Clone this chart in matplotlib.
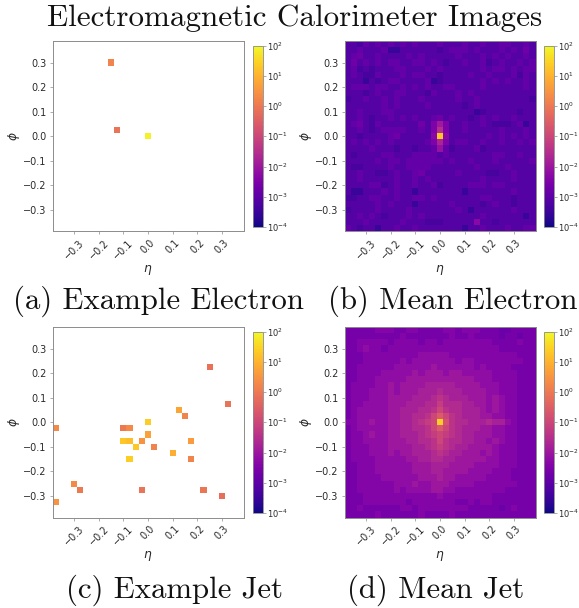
import numpy as np
import matplotlib
matplotlib.use("Agg")
import matplotlib.pyplot as plt
from matplotlib.colors import LogNorm
from matplotlib.ticker import FixedLocator

W, H = 579, 608
plt.rcParams['mathtext.fontset'] = 'dejavusans'

# Example electron: non-empty cells
electron_eta = [-0.15, -0.125, 0.0]
electron_phi = [0.3, 0.025, 0.0]
electron_val = [1.5, 0.8, 80.0]

# Example jet: non-empty cells
jet_eta = [-0.375, -0.1, -0.075, 0.0, 0.125, 0.15, 0.25, 0.325, -0.1, -0.075, 0.0, -0.025,
           -0.05, 0.025, 0.175, 0.1, 0.175, -0.075, -0.3, -0.275, -0.375, -0.025, 0.225, 0.3]
jet_phi = [-0.025, -0.025, -0.025, 0.0, 0.05, 0.025, 0.225, 0.075, -0.075, -0.075, -0.05, -0.075,
           -0.1, -0.1, -0.075, -0.125, -0.15, -0.15, -0.25, -0.275, -0.325, -0.275, -0.275, -0.3]
jet_val = [2.0, 1.0, 2.0, 25.0, 6.0, 1.5, 0.7, 0.8, 20.0, 15.0, 5.0, 3.0,
           20.0, 1.5, 4.0, 8.0, 1.5, 25.0, 2.0, 1.0, 3.0, 0.8, 0.9, 0.6]

# Mean images read cell by cell, top row first; each base-36 digit is a level,
# log10(value) = base + 0.2 * level
electron_log_base = -4.12
jet_log_base = -4.0
mean_electron_levels = [
    "5546565656 5655565556 5565566556 5",
    "5565556335 5555545666 5655565657 5",
    "5675565555 6565555565 5565656556 5",
    "5756565665 5665654556 5564565565 6",
    "5645455566 5556565555 5565665656 6",
    "5654465556 5665545555 6556555646 5",
    "5553545665 5556345555 5565656556 5",
    "5666566556 5656556655 5565555556 5",
    "5554565566 5554655565 6555555555 5",
    "4556556565 5565555565 5655555555 4",
    "5555556565 5556555554 5655555555 5",
    "5565556655 5555555555 5345555545 5",
    "5565455656 5655675655 4565655655 5",
    "5675465555 55758b8556 5565444563 5",
    "5565456666 55658d8556 5555565556 5",
    "5545555675 55559r9555 5556565656 5",
    "5656565655 55568c8566 5565565565 6",
    "5555655545 54556a6455 5645555555 5",
    "5455556655 5666656555 5555665565 5",
    "5555565665 6666665655 6555655555 6",
    "5445555655 6666555555 5655556555 5",
    "5565544565 5675555565 5554455655 5",
    "5565555565 5656555555 5565555655 5",
    "5555664565 5655645555 6665665555 5",
    "5335556565 5355555553 5555555655 5",
    "4455665565 5665655555 5566555455 5",
    "5555565655 5355555655 5545655455 5",
    "4555565555 6555555565 3555555655 5",
    "5565654555 6565555555 5565555553 5",
    "5556555556 5554445555 5955455555 5",
    "6545535565 5655555553 5565556556 6",
]

mean_jet_levels = [
    "7777788877 8877778878 8877766777 7",
    "7777777778 7777777877 8777767767 7",
    "7788888788 8878878888 8888777787 7",
    "7789887888 8888888888 8888877777 7",
    "7778888888 8899999888 8888888877 7",
    "7778888889 8999999989 9888888887 7",
    "7788888899 9999a99999 9898888777 7",
    "7788889999 9a9aaa9aa9 9999888877 7",
    "7788899999 aaaaaaaaaa a999888877 7",
    "7888899a9a aaabbbbbaa aa99988877 7",
    "7888999a9a aabbbcbbba aaa9988877 7",
    "7888999aaa abbbcdcbbb aaa9a98877 7",
    "7889999aaa bbbccecccb baa9a98877 7",
    "7899999aab bbccdfdccb bba9a98877 7",
    "7899999aab bccdfhfdcb bbaa998877 7",
    "8899a99aab bcdefrgdcc bbbcbb9877 7",
    "7899999aab bccdfhfdcb bbaa998877 7",
    "7889a99aab bbcdefedcb baaa998877 7",
    "7889999aaa bbccdfdccb baa9a98877 7",
    "7888999aaa abbcdedcbb aaaa988877 7",
    "7888999a9a abbbcdcbba aa9a988877 7",
    "7888899999 aabbccbbaa aaa9988877 7",
    "7788899999 9aaabbbaaa a999988877 7",
    "7788899999 9aaabbaaaa 9999888777 7",
    "7788889999 99aaabaa99 9998888777 7",
    "7788888899 9a99aaa999 9888888877 7",
    "7788888898 9999aa9988 8888887777 7",
    "7778888888 8888898888 8888777777 7",
    "7778888888 7888888877 8788777777 7",
    "7787777778 8788888888 7777767877 7",
    "7777787777 7787777877 7777777777 7",
]

tick_values = [-0.3, -0.2, -0.1, 0.0, 0.1, 0.2, 0.3]
cbar_exponents = [-4, -3, -2, -1, 0, 1, 2]
title_text = "Electromagnetic Calorimeter Images"
captions = ["(a) Example Electron", "(b) Mean Electron", "(c) Example Jet", "(d) Mean Jet"]

NPIX = 31
CELL = 0.025
edges = (np.arange(NPIX + 1) - NPIX / 2) * CELL
norm = LogNorm(vmin=1e-4, vmax=1e2)
GREY = "#8c8c8c"
TXT = "#2a2a2a"


def from_cells(eta, phi, val):
    g = np.full((NPIX, NPIX), np.nan)
    for e, p, v in zip(eta, phi, val):
        g[int(round(p / CELL)) + NPIX // 2, int(round(e / CELL)) + NPIX // 2] = v
    return g


def from_levels(rows, base):
    g = [[10 ** (base + 0.2 * int(c, 36)) for c in r.replace(" ", "")] for r in rows]
    return np.array(g)[::-1]


def px_axes(fig, x0, y0, x1, y1):
    return fig.add_axes([x0 / W, 1 - y1 / H, (x1 - x0) / W, (y1 - y0) / H])


fig = plt.figure(figsize=(W / 100, H / 100), dpi=100)

panels = [
    (from_cells(electron_eta, electron_phi, electron_val), 52.5, 41, 253),
    (from_levels(mean_electron_levels, electron_log_base), 344.5, 41, 544),
    (from_cells(jet_eta, jet_phi, jet_val), 52.5, 327, 253),
    (from_levels(mean_jet_levels, jet_log_base), 344.5, 327, 544),
]

for grid, x0, y0, cx in panels:
    ax = px_axes(fig, x0, y0, x0 + 191, y0 + 190.5)
    mesh = ax.pcolormesh(edges, edges, grid, cmap="plasma", norm=norm, linewidth=0)
    ax.set_xlim(edges[0], edges[-1])
    ax.set_ylim(edges[0], edges[-1])
    ax.set_xticks(tick_values)
    ax.set_yticks(tick_values)
    ax.set_xticklabels([f"{t:.1f}".replace("-", "\u2212") for t in tick_values],
                       rotation=45, ha="center", fontsize=7.0, color=TXT)
    ax.set_yticklabels([f"{t:.1f}".replace("-", "\u2212") for t in tick_values],
                       fontsize=7.0, color=TXT)
    ax.tick_params(length=2, width=0.5, color=GREY, pad=2.5)
    for s in ax.spines.values():
        s.set_color(GREY)
        s.set_linewidth(0.7)
    ax.set_xlabel(r"$\eta$", fontsize=8.8, color=TXT, labelpad=1.0)
    ax.set_ylabel(r"$\phi$", fontsize=8.8, color=TXT, labelpad=0.5)

    cax = px_axes(fig, cx, y0 + 4.5, cx + 9.5, y0 + 186)
    cb = fig.colorbar(mesh, cax=cax)
    cb.ax.yaxis.set_major_locator(FixedLocator([10.0 ** e for e in cbar_exponents]))
    cb.set_ticklabels([f"$10^{{{e}}}$".replace("-", "\u2212") for e in cbar_exponents])
    cb.ax.tick_params(which="major", labelsize=6.0, labelcolor=TXT, length=2, width=0.5, color=GREY, pad=1.2)
    cb.ax.tick_params(which="minor", length=1, width=0.3, color=GREY)
    cb.outline.set_edgecolor(GREY)
    cb.outline.set_linewidth(0.6)

fig.text(294.5 / W, 1 - 18 / H, title_text, family="cmr10", fontsize=22.4,
         ha="center", va="center", color="#111111")

caption_pos = [(158.5, 301), (453, 301), (174, 590), (436, 590)]
for (x, y), c in zip(caption_pos, captions):
    fig.text(x / W, 1 - y / H, c, family="cmr10", fontsize=22.2, ha="center", va="center", color="#111111")

fig.savefig("out.png", dpi=100)
